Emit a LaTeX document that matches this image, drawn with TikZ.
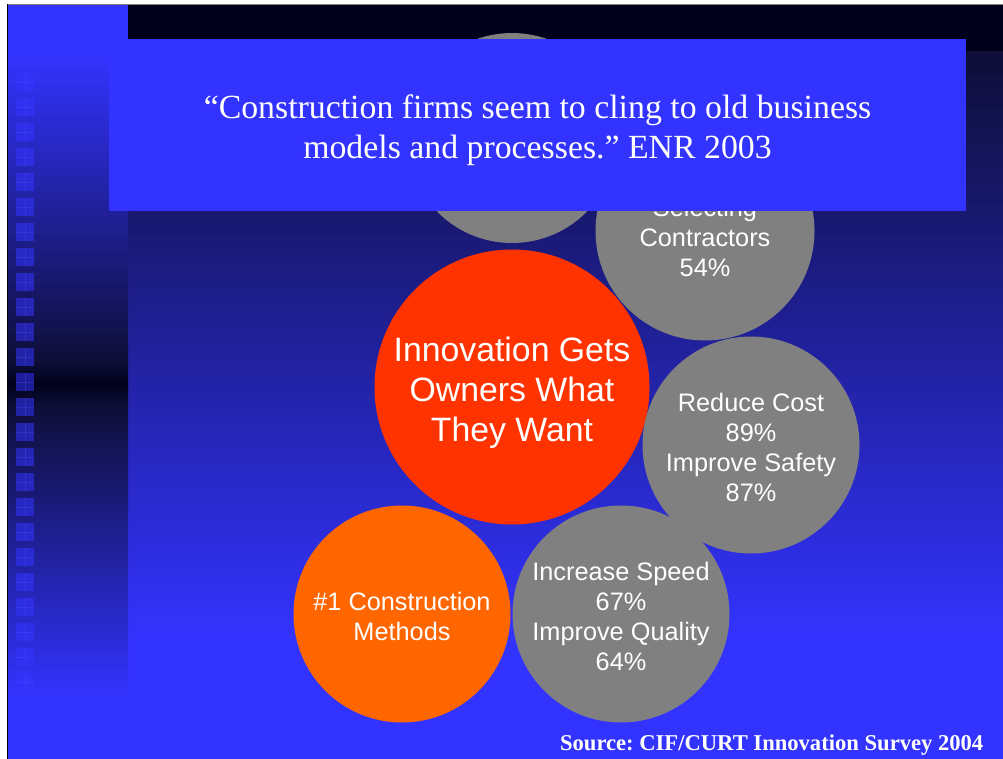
\documentclass[tikz,border=0pt]{standalone}
\usepackage{fontspec}
\setmainfont{Liberation Serif}
\newfontfamily\arialfont{Liberation Sans}
\usetikzlibrary{positioning}
\definecolor{slideblue}{HTML}{3333FF}
\definecolor{nightblue}{HTML}{0E0E38}
\definecolor{inkblack}{HTML}{00001A}
\definecolor{bubblegray}{HTML}{808080}
\definecolor{innovred}{HTML}{FF3300}
\definecolor{methodorange}{HTML}{FF6600}
\newcommand{\topstrut}[1]{\rule{0pt}{#1}}
\frenchspacing

\begin{document}
\begin{tikzpicture}[x=1pt, y=-1pt,
  bubble/.style={
    circle,
    inner sep=0pt,
    align=center,
    text=white,
    font=\arialfont\fontsize{25.3}{30}\selectfont
  },
  graybubble/.style={bubble, fill=bubblegray, minimum size=217pt},
  bigbubble/.style={bubble, fill=innovred, minimum size=275pt,
    font=\arialfont\fontsize{33.8}{40}\selectfont},
  quotebox/.style={
    fill=slideblue,
    text=white,
    align=center,
    inner sep=0pt,
    minimum width=857pt,
    minimum height=172pt,
    font=\fontsize{33.8}{40}\selectfont
  },
  source/.style={text=white, inner sep=0pt, font=\bfseries\fontsize{22.6}{26}\selectfont}
]
\useasboundingbox (0,0) rectangle (1003,759);
% slide background
\fill[white] (0,0) rectangle (1003,759);
\fill[slideblue] (7,5) rectangle (1003,759);
\fill[inkblack] (128,5) rectangle (1003,52);
\shade[top color=nightblue, bottom color=slideblue] (128,52) rectangle (1003,640);
\shade[top color=slideblue, bottom color=nightblue] (7,55) rectangle (128,362);
\shade[top color=nightblue, bottom color=inkblack] (7,362) rectangle (128,384);
\shade[top color=inkblack, bottom color=nightblue] (7,384) rectangle (128,405);
\shade[top color=nightblue, bottom color=slideblue] (7,405) rectangle (128,697);
\foreach \k in {0,...,24} {
  \fill[slideblue, opacity=0.55] (16,{73+25*\k}) rectangle (34,{91+25*\k});
  \draw[slideblue!85!white, opacity=0.3, line width=0.8pt]
    (25.5,{73+25*\k}) -- ++(0,18) (16,{82+25*\k}) -- ++(18,0);
}
\draw[gray, line width=0.8pt] (7,4.5) -- (1003,4.5);
\draw[black, line width=1pt] (7.5,4) -- (7.5,759);

% bubbles
\node[graybubble, minimum size=210pt] (hidden) at (512,138) {};
\node[graybubble, minimum size=219pt] (select) at (705,231)
  {\topstrut{32pt}Selecting\\Contractors\\54\%};
\node[bigbubble] (innov) at (512,387)
  {\topstrut{36pt}Innovation Gets\\Owners What\\They Want};
\node[graybubble] (cost) at (751,445)
  {\topstrut{23pt}Reduce Cost\\89\%\\Improve Safety\\87\%};
\node[graybubble] (speed) at (621,614)
  {\topstrut{23pt}Increase Speed\\67\%\\Improve Quality\\64\%};
\node[graybubble, fill=methodorange] (method) at (402,614)
  {\topstrut{24pt}\#1 Construction\\Methods};

% quote and source
\node[quotebox] (quote) at (537.5,125)
  {\topstrut{34pt}“Construction firms seem to cling to old business\\models and processes.” ENR 2003};
\node[source, anchor=east] (src) at (983.5,745)
  {Source: CIF/CURT Innovation Survey 2004};
\end{tikzpicture}
\end{document}
